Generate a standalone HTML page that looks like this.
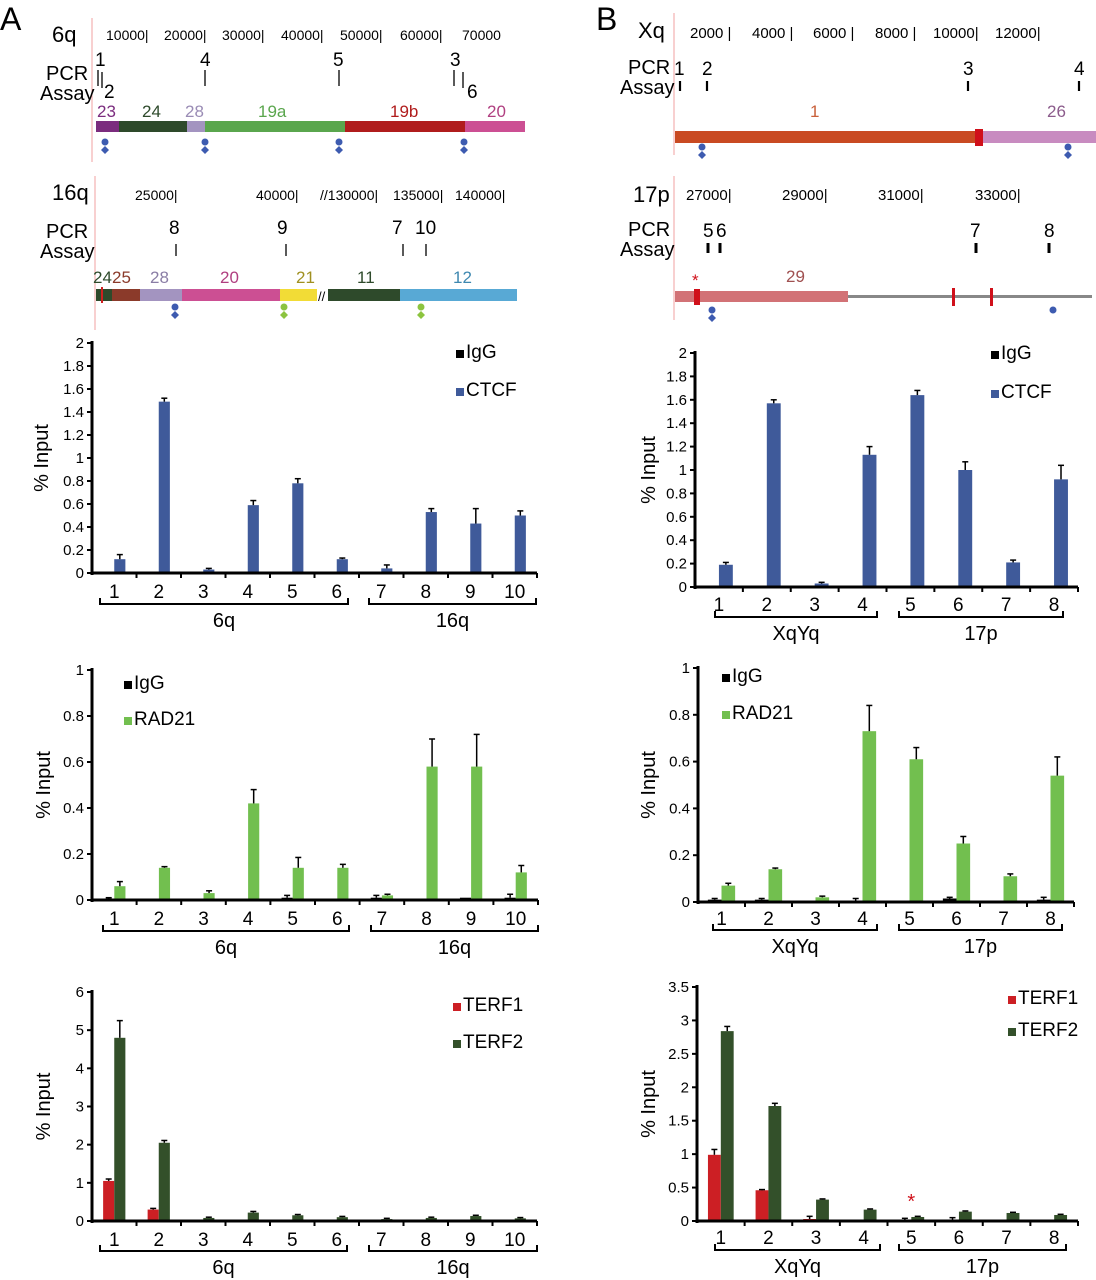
<!DOCTYPE html>
<html><head><meta charset="utf-8"><style>
html,body{margin:0;padding:0;background:#fff;}
svg{display:block;font-family:"Liberation Sans","DejaVu Sans",sans-serif;}
</style></head><body>
<svg id="fig" width="1096" height="1280" viewBox="0 0 1096 1280" xmlns="http://www.w3.org/2000/svg">
<text x="0" y="30" font-size="32">A</text>
<text x="596" y="30" font-size="32">B</text>

<g>
<line x1="92" y1="18" x2="92" y2="162" stroke="#f0a0a0" stroke-width="1"/>
<text x="52" y="42" font-size="22">6q</text>
<g font-size="14">
<text x="106" y="40">10000|</text><text x="164" y="40">20000|</text><text x="222" y="40">30000|</text><text x="281" y="40">40000|</text><text x="340" y="40">50000|</text><text x="400" y="40">60000|</text><text x="462" y="40">70000</text>
</g>
<text x="46" y="80" font-size="20">PCR</text><text x="40" y="100" font-size="20">Assay</text>
<g font-size="19">
<text x="95" y="66">1</text><text x="200" y="66">4</text><text x="333" y="66">5</text><text x="450" y="66">3</text><text x="104" y="98">2</text><text x="467" y="98">6</text>
</g>
<g stroke="#000" stroke-width="1.3">
<line x1="98" y1="70" x2="98" y2="86"/><line x1="102" y1="72" x2="102" y2="88"/><line x1="205" y1="70" x2="205" y2="86"/><line x1="339" y1="70" x2="339" y2="86"/><line x1="454" y1="70" x2="454" y2="86"/><line x1="463" y1="72" x2="463" y2="88"/>
</g>
<g font-size="17">
<text x="97" y="117" fill="#7b2c7e">23</text><text x="142" y="117" fill="#2e4a2b">24</text><text x="185" y="117" fill="#9a8cb5">28</text><text x="258" y="117" fill="#5aa64d">19a</text><text x="390" y="117" fill="#b01c1c">19b</text><text x="487" y="117" fill="#b03f80">20</text>
</g>
<rect x="96" y="121" width="23" height="11" fill="#7b2c7e"/>
<rect x="119" y="121" width="68" height="11" fill="#2e4a2b"/>
<rect x="187" y="121" width="18" height="11" fill="#a394c0"/>
<rect x="205" y="121" width="140" height="11" fill="#5aa64d"/>
<rect x="345" y="121" width="120" height="11" fill="#b01c1c"/>
<rect x="465" y="121" width="60" height="11" fill="#cc4f93"/>
<g fill="#3d5bb0">
<circle cx="105" cy="142" r="3.5"/><path d="M105 146 l4 4 -4 4 -4 -4z"/>
<circle cx="205" cy="142" r="3.5"/><path d="M205 146 l4 4 -4 4 -4 -4z"/>
<circle cx="339" cy="142" r="3.5"/><path d="M339 146 l4 4 -4 4 -4 -4z"/>
<circle cx="464" cy="142" r="3.5"/><path d="M464 146 l4 4 -4 4 -4 -4z"/>
</g>
</g>

<g>
<line x1="95" y1="176" x2="95" y2="330" stroke="#f0a0a0" stroke-width="1"/>
<text x="52" y="200" font-size="22">16q</text>
<g font-size="14">
<text x="135" y="200">25000|</text><text x="256" y="200">40000|</text><text x="320" y="200">//130000|</text><text x="393" y="200">135000|</text><text x="455" y="200">140000|</text>
</g>
<text x="46" y="238" font-size="20">PCR</text><text x="40" y="258" font-size="20">Assay</text>
<g font-size="19">
<text x="169" y="234">8</text><text x="277" y="234">9</text><text x="392" y="234">7</text><text x="415" y="234">10</text>
</g>
<g stroke="#000" stroke-width="1.3">
<line x1="176" y1="244" x2="176" y2="256"/><line x1="286" y1="244" x2="286" y2="256"/><line x1="403" y1="244" x2="403" y2="256"/><line x1="426" y1="244" x2="426" y2="256"/>
</g>
<g font-size="17">
<text x="93" y="283" fill="#2e4a2b">24</text><text x="112" y="283" fill="#8b3a2a">25</text><text x="150" y="283" fill="#8a7da5">28</text><text x="220" y="283" fill="#b03f80">20</text><text x="296" y="283" fill="#a09020">21</text><text x="357" y="283" fill="#2e4a2b">11</text><text x="453" y="283" fill="#3e88b0">12</text>
</g>
<rect x="96" y="289" width="16" height="12" fill="#2e4a2b"/>
<rect x="101" y="287" width="2" height="16" fill="#d02020"/>
<rect x="112" y="289" width="28" height="12" fill="#8b3a2a"/>
<rect x="140" y="289" width="42" height="12" fill="#a394c0"/>
<rect x="182" y="289" width="98" height="12" fill="#cc4f93"/>
<rect x="280" y="289" width="37" height="12" fill="#f2dc36"/>
<text x="318" y="301" font-size="13">//</text>
<rect x="328" y="289" width="72" height="12" fill="#2e4a2b"/>
<rect x="400" y="289" width="117" height="12" fill="#58a9d5"/>
<g>
<circle cx="175" cy="307" r="3.5" fill="#3d5bb0"/><path d="M175 311 l4 4 -4 4 -4 -4z" fill="#3d5bb0"/>
<circle cx="284" cy="307" r="3.5" fill="#8cc43f"/><path d="M284 311 l4 4 -4 4 -4 -4z" fill="#8cc43f"/>
<circle cx="421" cy="307" r="3.5" fill="#8cc43f"/><path d="M421 311 l4 4 -4 4 -4 -4z" fill="#8cc43f"/>
</g>
</g>

<g>
<line x1="674" y1="13" x2="674" y2="155" stroke="#f0a0a0" stroke-width="1"/>
<text x="638" y="38" font-size="22">Xq</text>
<g font-size="15">
<text x="690" y="38">2000 |</text><text x="752" y="38">4000 |</text><text x="813" y="38">6000 |</text><text x="875" y="38">8000 |</text><text x="933" y="38">10000|</text><text x="995" y="38">12000|</text>
</g>
<text x="628" y="74" font-size="20">PCR</text><text x="620" y="94" font-size="20">Assay</text>
<g font-size="19">
<text x="674" y="75">1</text><text x="702" y="75">2</text><text x="963" y="75">3</text><text x="1074" y="75">4</text>
</g>
<g stroke="#000" stroke-width="2.2">
<line x1="680" y1="81" x2="680" y2="91"/><line x1="707" y1="81" x2="707" y2="91"/><line x1="968" y1="81" x2="968" y2="91"/><line x1="1079" y1="81" x2="1079" y2="91"/>
</g>
<text x="810" y="117" font-size="17" fill="#c9603a">1</text>
<text x="1047" y="117" font-size="17" fill="#8b5b8b">26</text>
<rect x="675" y="131" width="302" height="12" fill="#c94a22"/>
<rect x="983" y="131" width="113" height="12" fill="#c88bc0"/>
<rect x="975" y="129" width="8" height="17" fill="#d0101a"/>
<g fill="#3d5bb0">
<circle cx="702" cy="147" r="3.5"/><path d="M702 151 l4 4 -4 4 -4 -4z"/>
<circle cx="1068" cy="147" r="3.5"/><path d="M1068 151 l4 4 -4 4 -4 -4z"/>
</g>
</g>

<g>
<line x1="674" y1="176" x2="674" y2="320" stroke="#f0a0a0" stroke-width="1"/>
<text x="633" y="202" font-size="22">17p</text>
<g font-size="15">
<text x="686" y="200">27000|</text><text x="782" y="200">29000|</text><text x="878" y="200">31000|</text><text x="975" y="200">33000|</text>
</g>
<text x="628" y="236" font-size="20">PCR</text><text x="620" y="256" font-size="20">Assay</text>
<g font-size="19">
<text x="703" y="237">5</text><text x="716" y="237">6</text><text x="970" y="237">7</text><text x="1044" y="237">8</text>
</g>
<g stroke="#000" stroke-width="3">
<line x1="708" y1="243" x2="708" y2="253"/><line x1="720" y1="243" x2="720" y2="253"/><line x1="976" y1="243" x2="976" y2="253"/><line x1="1049" y1="243" x2="1049" y2="253"/>
</g>
<text x="692" y="286" font-size="17" fill="#d0101a">*</text>
<text x="786" y="282" font-size="17" fill="#a05050">29</text>
<rect x="675" y="291" width="173" height="11" fill="#d27276"/>
<rect x="848" y="295" width="244" height="3" fill="#888"/>
<rect x="694" y="289" width="6" height="16" fill="#d0101a"/>
<rect x="952" y="288" width="3" height="18" fill="#d0101a"/>
<rect x="990" y="288" width="3" height="18" fill="#d0101a"/>
<g fill="#3d5bb0">
<circle cx="712" cy="310" r="3.5"/><path d="M712 314 l4 4 -4 4 -4 -4z"/>
<circle cx="1053" cy="310" r="3.5"/>
</g>
</g>

<g id="charts"></g>
</svg>

<script>
const catsA = ["1","2","3","4","5","6","7","8","9","10"];
const catsB = ["1","2","3","4","5","6","7","8"];

const aCtcfTicks = ["0","0.2","0.4","0.6","0.8","1","1.2","1.4","1.6","1.8","2"];
const aCtcfIgG = [0.005,0.005,0,0.005,0.01,0.005,0.01,0.005,0.005,0.01];
const aCtcfIgGErr = [0,0,0,0,0,0,0,0,0,0];
const aCtcfVals = [0.12,1.49,0.03,0.59,0.78,0.12,0.04,0.53,0.43,0.50];
const aCtcfErr = [0.04,0.03,0.01,0.04,0.04,0.01,0.03,0.03,0.13,0.04];

const aRadTicks = ["0","0.2","0.4","0.6","0.8","1"];
const aRadIgG = [0.005,0.005,0.005,0.005,0.01,0.005,0.01,0.005,0.01,0.01];
const aRadIgGErr = [0.005,0,0,0,0.01,0,0.01,0,0,0.015];
const aRadVals = [0.06,0.14,0.03,0.42,0.14,0.14,0.02,0.58,0.58,0.12];
const aRadErr = [0.02,0.005,0.01,0.06,0.045,0.015,0.005,0.12,0.14,0.03];

const aTerfTicks = ["0","1","2","3","4","5","6"];
const aTerf1 = [1.05,0.30,0.01,0.01,0.01,0.01,0.01,0.01,0.01,0.01];
const aTerf1Err = [0.05,0.03,0,0,0,0,0,0,0,0];
const aTerf2 = [4.80,2.05,0.08,0.22,0.15,0.10,0.05,0.08,0.13,0.07];
const aTerf2Err = [0.45,0.06,0.02,0.03,0.02,0.02,0.02,0.02,0.02,0.02];

const bCtcfTicks = ["0","0.2","0.4","0.6","0.8","1","1.2","1.4","1.6","1.8","2"];
const bCtcfIgG = [0.01,0.01,0.005,0.01,0.005,0.01,0.01,0.01];
const bCtcfIgGErr = [0,0,0,0,0,0,0,0];
const bCtcfVals = [0.19,1.57,0.03,1.13,1.64,1.00,0.21,0.92];
const bCtcfErr = [0.02,0.03,0.01,0.07,0.04,0.07,0.02,0.12];

const bRadTicks = ["0","0.2","0.4","0.6","0.8","1"];
const bRadIgG = [0.01,0.01,0.005,0.005,0.005,0.015,0.005,0.01];
const bRadIgGErr = [0.005,0.005,0,0.01,0,0.005,0,0.01];
const bRadVals = [0.07,0.14,0.02,0.73,0.61,0.25,0.11,0.54];
const bRadErr = [0.01,0.005,0.005,0.11,0.05,0.03,0.01,0.08];

const bTerfTicks = ["0","0.5","1","1.5","2","2.5","3","3.5"];
const bTerf1 = [0.99,0.46,0.03,0,0.01,0.01,0.01,0.01];
const bTerf1Err = [0.08,0.01,0.04,0,0.03,0.04,0,0];
const bTerf2 = [2.84,1.72,0.32,0.17,0.06,0.14,0.12,0.09];
const bTerf2Err = [0.07,0.04,0.01,0.01,0.01,0.01,0.01,0.01];

const NS = "http://www.w3.org/2000/svg";
const root = document.getElementById("charts");
function mk(tag, attrs, parent){
  const e = document.createElementNS(NS, tag);
  for (const k in attrs) e.setAttribute(k, attrs[k]);
  parent.appendChild(e);
  return e;
}

function drawChart(cfg){
  const g = mk("g", {}, root);
  
  
  const n = cfg.cats.length;
  const maxV = parseFloat(cfg.ticks[cfg.ticks.length-1]);
  const w = (cfg.x1 - cfg.x0) / n;
  const yS = v => cfg.yZero - v / maxV * (cfg.yZero - cfg.yTop);
  const xC = i => cfg.x0 + (i + 0.5) * w;
  const bw = w * cfg.bf;

  const ya = mk("line", {x1:cfg.x0, y1:cfg.yTop-2, x2:cfg.x0, y2:cfg.yZero+2, stroke:"#000","stroke-width":3}, g);
  
  
  cfg.ticks.forEach(t => {
    const y = yS(parseFloat(t));
    mk("line", {x1:cfg.x0-5, y1:y, x2:cfg.x0, y2:y, stroke:"#000","stroke-width":2}, g);
    const tx = mk("text", {x:cfg.x0-8, y:y+5, "font-size":15, "text-anchor":"end"}, g);
    tx.textContent = t;
    
    
  });
  const yt = mk("text", {x:0, y:0, "font-size":20, "text-anchor":"middle", transform:`translate(${cfg.titleX},${(cfg.yTop+cfg.yZero)/2}) rotate(-90)`}, g);
  yt.textContent = "% Input";
  
  

  cfg.series.forEach((s, si) => {
    s.vals.forEach((v, i) => {
      const xl = xC(i) + (si === 0 ? -bw : 0);
      const yt2 = yS(v);
      const r = mk("rect", {x:xl, y:yt2, width:bw, height:Math.max(0, cfg.yZero - yt2), fill:s.color}, g);
      
      
      const e = s.errs[i];
      if (e > 0) {
        const cx = xl + bw/2, ye = yS(v + e);
        mk("line", {x1:cx, y1:yt2, x2:cx, y2:ye, stroke:"#000","stroke-width":1.5}, g);
        mk("line", {x1:cx-3, y1:ye, x2:cx+3, y2:ye, stroke:"#000","stroke-width":1.5}, g);
      }
    });
  });

  const xa = mk("line", {x1:cfg.x0-1, y1:cfg.yZero, x2:cfg.x1, y2:cfg.yZero, stroke:"#000","stroke-width":3}, g);
  
  
  for (let i = 1; i <= n; i++) {
    const x = cfg.x0 + i * w;
    mk("line", {x1:x, y1:cfg.yZero, x2:x, y2:cfg.yZero+5, stroke:"#000","stroke-width":2}, g);
  }
  cfg.cats.forEach((c, i) => {
    const t = mk("text", {x:xC(i), y:cfg.yZero+cfg.labOff, "font-size":19, "text-anchor":"middle"}, g);
    t.textContent = c;
    
    
  });

  cfg.brackets.forEach(b => {
    const p = mk("path", {d:`M${b.a} ${cfg.bY-6} V${cfg.bY} H${b.b} V${cfg.bY-6}`, stroke:"#000","stroke-width":2, fill:"none"}, g);
    
    
    const t = mk("text", {x:(b.a+b.b)/2, y:cfg.bY+23, "font-size":20, "text-anchor":"middle"}, g);
    t.textContent = b.label;
    
    
  });

  cfg.series.forEach((s, si) => {
    const lx = cfg.legX, ly = cfg.legY + si * cfg.legGap;
    const sq = mk("rect", {x:lx, y:ly-8, width:8, height:8, fill:s.color}, g);
    
    
    const t = mk("text", {x:lx+10, y:ly, "font-size":19}, g);
    t.textContent = s.label;
    
    
  });

  if (cfg.star) {
    const t = mk("text", {x:xC(cfg.star.i), y:cfg.star.y, "font-size":20, fill:"#d0101a", "text-anchor":"middle"}, g);
    t.textContent = "*";
    
    
  }
}

const BLUE = "#3f5a9a", GREEN = "#72bf4f", RED = "#cc1f24", DKG = "#33502a", BLK = "#000";

drawChart({name:"chart-a-ctcf", cats:catsA, ticks:aCtcfTicks, x0:92, x1:537, yTop:343, yZero:573, bf:0.25, titleX:48, labOff:25,
  series:[{key:"igg",label:"IgG",color:BLK,vals:aCtcfIgG,errs:aCtcfIgGErr},{key:"ctcf",label:"CTCF",color:BLUE,vals:aCtcfVals,errs:aCtcfErr}],
  bY:604, brackets:[{a:100,b:348,label:"6q"},{a:369,b:536,label:"16q"}], legX:456, legY:358, legGap:38});

drawChart({name:"chart-a-rad21", cats:catsA, ticks:aRadTicks, x0:92, x1:538, yTop:670, yZero:900, bf:0.25, titleX:50, labOff:25,
  series:[{key:"igg",label:"IgG",color:BLK,vals:aRadIgG,errs:aRadIgGErr},{key:"rad21",label:"RAD21",color:GREEN,vals:aRadVals,errs:aRadErr}],
  bY:931, brackets:[{a:103,b:349,label:"6q"},{a:371,b:538,label:"16q"}], legX:124, legY:689, legGap:36});

drawChart({name:"chart-a-terf", cats:catsA, ticks:aTerfTicks, x0:92, x1:537, yTop:992, yZero:1221, bf:0.25, titleX:50, labOff:25,
  series:[{key:"terf1",label:"TERF1",color:RED,vals:aTerf1,errs:aTerf1Err},{key:"terf2",label:"TERF2",color:DKG,vals:aTerf2,errs:aTerf2Err}],
  bY:1251, brackets:[{a:100,b:347,label:"6q"},{a:369,b:537,label:"16q"}], legX:453, legY:1011, legGap:37});

drawChart({name:"chart-b-ctcf", cats:catsB, ticks:bCtcfTicks, x0:695, x1:1078, yTop:353, yZero:587, bf:0.29, titleX:655, labOff:24,
  series:[{key:"igg",label:"IgG",color:BLK,vals:bCtcfIgG,errs:bCtcfIgGErr},{key:"ctcf",label:"CTCF",color:BLUE,vals:bCtcfVals,errs:bCtcfErr}],
  bY:617, brackets:[{a:715,b:877,label:"XqYq"},{a:899,b:1063,label:"17p"}], legX:991, legY:359, legGap:39});

drawChart({name:"chart-b-rad21", cats:catsB, ticks:bRadTicks, x0:698, x1:1074, yTop:668, yZero:902, bf:0.29, titleX:655, labOff:23,
  series:[{key:"igg",label:"IgG",color:BLK,vals:bRadIgG,errs:bRadIgGErr},{key:"rad21",label:"RAD21",color:GREEN,vals:bRadVals,errs:bRadErr}],
  bY:930, brackets:[{a:713,b:877,label:"XqYq"},{a:899,b:1062,label:"17p"}], legX:722, legY:682, legGap:37});

drawChart({name:"chart-b-terf", cats:catsB, ticks:bTerfTicks, x0:697, x1:1078, yTop:987, yZero:1221, bf:0.27, titleX:655, labOff:23,
  series:[{key:"terf1",label:"TERF1",color:RED,vals:bTerf1,errs:bTerf1Err},{key:"terf2",label:"TERF2",color:DKG,vals:bTerf2,errs:bTerf2Err}],
  bY:1250, brackets:[{a:715,b:880,label:"XqYq"},{a:899,b:1066,label:"17p"}], legX:1008, legY:1004, legGap:32,
  star:{i:4, y:1208}});
</script>
</body></html>
